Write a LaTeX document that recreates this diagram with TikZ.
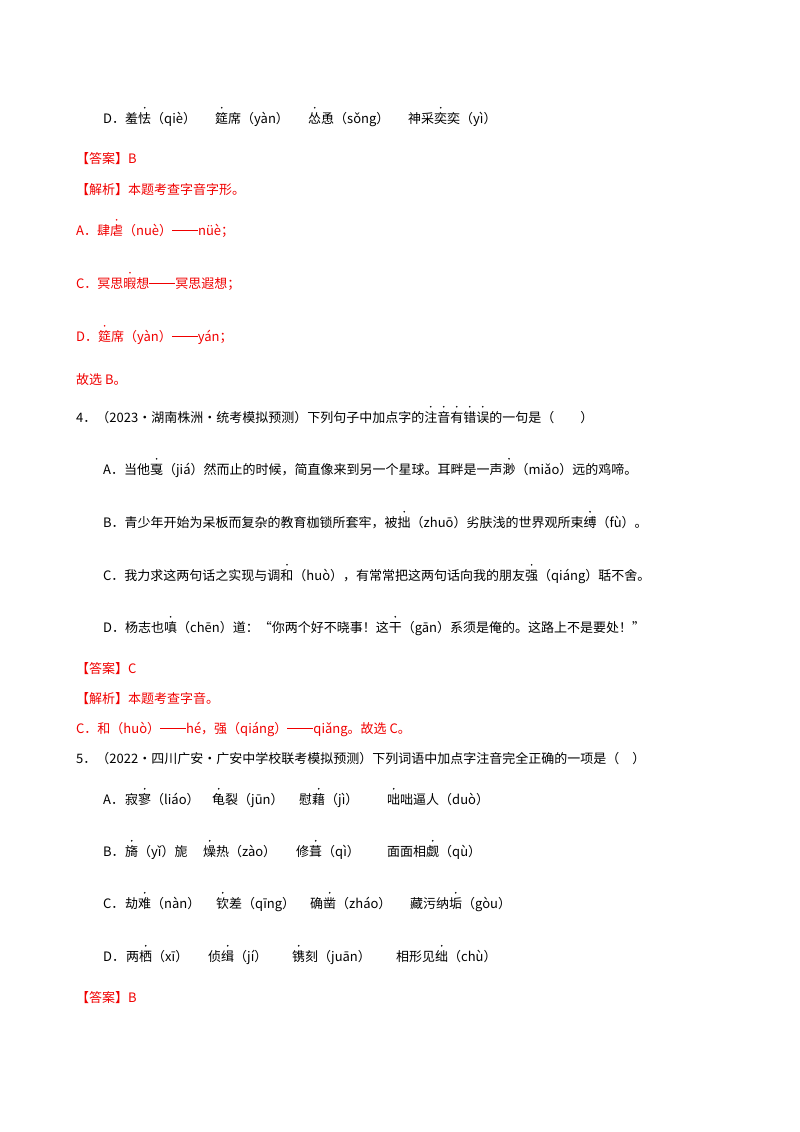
\documentclass[tikz,border=0pt]{standalone}
\usepackage{fontspec}
\setmainfont{Noto Sans CJK SC}
\newcommand\dotc[1]{\leavevmode\rlap{\makebox[1em]{\raisebox{1.1em}{\tikz\fill (0,0) circle (0.9pt);}}}#1}
\newcommand\ldash{\rule[0.33em]{2em}{0.6pt}}
\definecolor{ansred}{RGB}{240,0,0}
\begin{document}
\begin{tikzpicture}[x=1pt,y=-1pt,
  t/.style={anchor=base west,inner sep=0pt,font=\fontsize{13}{15}\selectfont},
  r/.style={t,text=ansred}]
\useasboundingbox (0,0) rectangle (800,1132);
\node[t] (l1a) at (103,123) {D．};
\node[t] (l1b) at (125,123) {羞\dotc{怯}（qiè）};
\node[t] (l1c) at (215,123) {\dotc{筵}席（yàn）};
\node[t] (l1d) at (308,123) {\dotc{怂}恿（sǒng）};
\node[t] (l1e) at (408,123) {神采\dotc{奕}奕（yì）};
\node[r] (a1) at (76,163) {【答案】B};
\node[r] (j1) at (76,194) {【解析】本题考查字音字形。};
\node[r] (ja) at (76,235) {A．肆\dotc{虐}（nuè）\ldash nüè；};
\node[r] (jc) at (76,288) {C．冥思\dotc{暇}想\ldash 冥思遐想；};
\node[r] (jd) at (76,341) {D．\dotc{筵}席（yàn）\ldash yán；};
\node[r] (g1) at (76,384) {故选 B。};
\node[t] (q4) at (76,422) {4．（2023·湖南株洲·统考模拟预测）下列句子中加点字的\dotc{注}\dotc{音}\dotc{有}\dotc{错}\dotc{误}的一句是（\quad\quad）};
\node[t] (q4a) at (103,474) {A．当他\dotc{戛}（jiá）然而止的时候，简直像来到另一个星球。耳畔是一声\dotc{渺}（miǎo）远的鸡啼。};
\node[t] (q4b) at (103,527) {B．青少年开始为呆板而复杂的教育枷锁所套牢，被\dotc{拙}（zhuō）劣肤浅的世界观所束\dotc{缚}（fù）。};
\node[t] (q4c) at (103,580) {C．我力求这两句话之实现与调\dotc{和}（huò），有常常把这两句话向我的朋友\dotc{强}（qiáng）聒不舍。};
\node[t] (q4d) at (103,632) {D．杨志也\dotc{嗔}（chēn）道：“你两个好不晓事！这\dotc{干}（gān）系须是俺的。这路上不是要处！”};
\node[r] (a2) at (76,673) {【答案】C};
\node[r] (j2) at (76,703) {【解析】本题考查字音。};
\node[r] (j2c) at (76,733) {C．和（huò）\ldash hé，强（qiáng）\ldash qiǎng。故选 C。};
\node[t] (q5) at (76,763) {5．（2022·四川广安·广安中学校联考模拟预测）下列词语中加点字注音完全正确的一项是（\quad）};
\node[t] (q5a) at (103,804) {A．};
\node[t] (q5a1) at (125,804) {寂\dotc{寥}（liáo）};
\node[t] (q5a2) at (212,804) {\dotc{龟}裂（jūn）};
\node[t] (q5a3) at (299,804) {慰\dotc{藉}（jì）};
\node[t] (q5a4) at (387,804) {\dotc{咄}咄逼人（duò）};
\node[t] (q5b) at (103,856) {B．};
\node[t] (q5b1) at (125,856) {\dotc{旖}（yǐ）旎};
\node[t] (q5b2) at (203,856) {\dotc{燥}热（zào）};
\node[t] (q5b3) at (296,856) {修\dotc{葺}（qì）};
\node[t] (q5b4) at (387,856) {面面相\dotc{觑}（qù）};
\node[t] (q5c) at (103,908) {C．};
\node[t] (q5c1) at (125,908) {劫\dotc{难}（nàn）};
\node[t] (q5c2) at (216,908) {\dotc{钦}差（qīng）};
\node[t] (q5c3) at (310,908) {确\dotc{凿}（zháo）};
\node[t] (q5c4) at (410,908) {藏污纳\dotc{垢}（gòu）};
\node[t] (q5d) at (103,961) {D．};
\node[t] (q5d1) at (126,961) {两\dotc{栖}（xī）};
\node[t] (q5d2) at (208,961) {侦\dotc{缉}（jí）};
\node[t] (q5d3) at (292,961) {\dotc{镌}刻（juān）};
\node[t] (q5d4) at (396,961) {相形见\dotc{绌}（chù）};
\node[r] (a3) at (76,1002) {【答案】B};
\end{tikzpicture}
\end{document}
